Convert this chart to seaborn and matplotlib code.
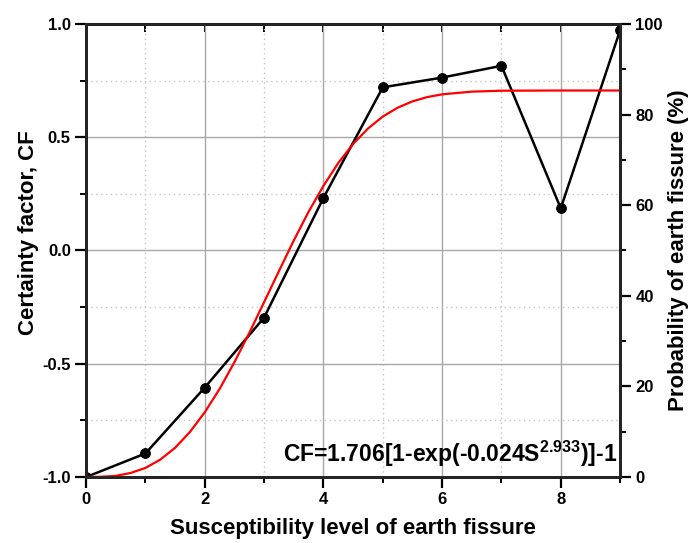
import matplotlib
matplotlib.use("Agg")
import matplotlib.pyplot as plt
import matplotlib.ticker as ticker
import pandas as pd
import seaborn as sns

# measured certainty factor per susceptibility level
levels = [0, 1, 2, 3, 4, 5, 6, 7, 8, 9]
cf_values = [-1.0, -0.896, -0.605, -0.296, 0.232, 0.72, 0.763, 0.815, 0.186, 0.972]

# fitted curve
fit_s = [0, 0.25, 0.5, 0.75, 1, 1.25, 1.5, 1.75, 2, 2.25, 2.5, 2.75, 3, 3.25, 3.5,
         3.75, 4, 4.25, 4.5, 4.75, 5, 5.25, 5.5, 5.75, 6, 6.5, 7, 8, 9]
fit_cf = [-1.0, -0.999, -0.995, -0.982, -0.960, -0.923, -0.871, -0.801, -0.714,
          -0.611, -0.493, -0.364, -0.228, -0.091, 0.044, 0.171, 0.285, 0.386, 0.470,
          0.538, 0.591, 0.630, 0.658, 0.677, 0.689, 0.701, 0.705, 0.706, 0.706]

formula = r"CF=1.706[1-exp(-0.024S$^{2.933}$)]-1"

sns.set_style("ticks")
plt.rcParams['font.family'] = ['Liberation Sans', 'DejaVu Sans']
plt.rcParams['font.weight'] = 'bold'
plt.rcParams['axes.unicode_minus'] = False
plt.rcParams['text.color'] = 'black'
plt.rcParams['axes.labelcolor'] = 'black'
plt.rcParams['xtick.color'] = 'black'
plt.rcParams['ytick.color'] = 'black'
plt.rcParams['mathtext.fontset'] = 'custom'
plt.rcParams['mathtext.rm'] = 'Liberation Sans:bold'
plt.rcParams['mathtext.it'] = 'Liberation Sans:bold'
plt.rcParams['mathtext.default'] = 'rm'

df = pd.DataFrame({'S': levels, 'CF': cf_values})
fit = pd.DataFrame({'S': fit_s, 'CF': fit_cf})

fig, ax = plt.subplots(figsize=(6.89, 5.43), dpi=100)
fig.subplots_adjust(left=0.125, right=0.9, bottom=0.1215, top=0.956)

sns.lineplot(data=df, x='S', y='CF', ax=ax, color='black', lw=1.8,
             marker='o', markersize=7, markeredgecolor='black', zorder=3)
sns.lineplot(data=fit, x='S', y='CF', ax=ax, color='#ff0000', lw=1.6, zorder=4)

ax.set_xlim(0, 9)
ax.set_ylim(-1, 1)
ax.xaxis.set_major_locator(ticker.MultipleLocator(2))
ax.xaxis.set_minor_locator(ticker.MultipleLocator(1))
ax.yaxis.set_major_locator(ticker.MultipleLocator(0.5))
ax.yaxis.set_minor_locator(ticker.MultipleLocator(0.25))
ax.yaxis.set_major_formatter(ticker.FormatStrFormatter('%.1f'))

ax.set_axisbelow(True)
ax.grid(which='major', color='#a8a8a8', lw=1, ls='-')
ax.grid(which='minor', color='#c4c4c4', lw=1, ls=(0, (1, 2.5)))

ax.tick_params(axis='both', which='major', direction='out', length=8, width=1.6,
               labelsize=12, pad=3)
ax.tick_params(axis='both', which='minor', direction='out', length=4.5, width=1.4)
for side in ax.spines.values():
    side.set_linewidth(2)
    side.set_color('black')

top = ax.secondary_xaxis('top')
top.xaxis.set_major_locator(ticker.MultipleLocator(1))
top.tick_params(direction='in', length=6, width=1.4, labeltop=False)
top.spines['top'].set_linewidth(2)

ax.set_xlabel('Susceptibility level of earth fissure', fontsize=16, fontweight='bold', labelpad=8)
ax.set_ylabel('Certainty factor, CF', fontsize=16, fontweight='bold')
ax.yaxis.set_label_coords(-0.088, 0.54)

ax2 = ax.twinx()
ax2.set_ylim(0, 100)
ax2.yaxis.set_major_locator(ticker.MultipleLocator(20))
ax2.yaxis.set_minor_locator(ticker.MultipleLocator(10))
ax2.tick_params(axis='y', which='major', direction='out', length=8, width=1.6,
                labelsize=12, pad=3)
ax2.tick_params(axis='y', which='minor', direction='out', length=4.5, width=1.4)
ax2.set_ylabel('Probability of earth fissure (%)', fontsize=16, fontweight='bold', labelpad=4)
for side in ax2.spines.values():
    side.set_linewidth(2)

ax.text(0.995, 0.018, formula, transform=ax.transAxes, ha='right', va='bottom',
        fontsize=16.5, fontweight='bold', zorder=6)

fig.savefig('out.png', dpi=100)
